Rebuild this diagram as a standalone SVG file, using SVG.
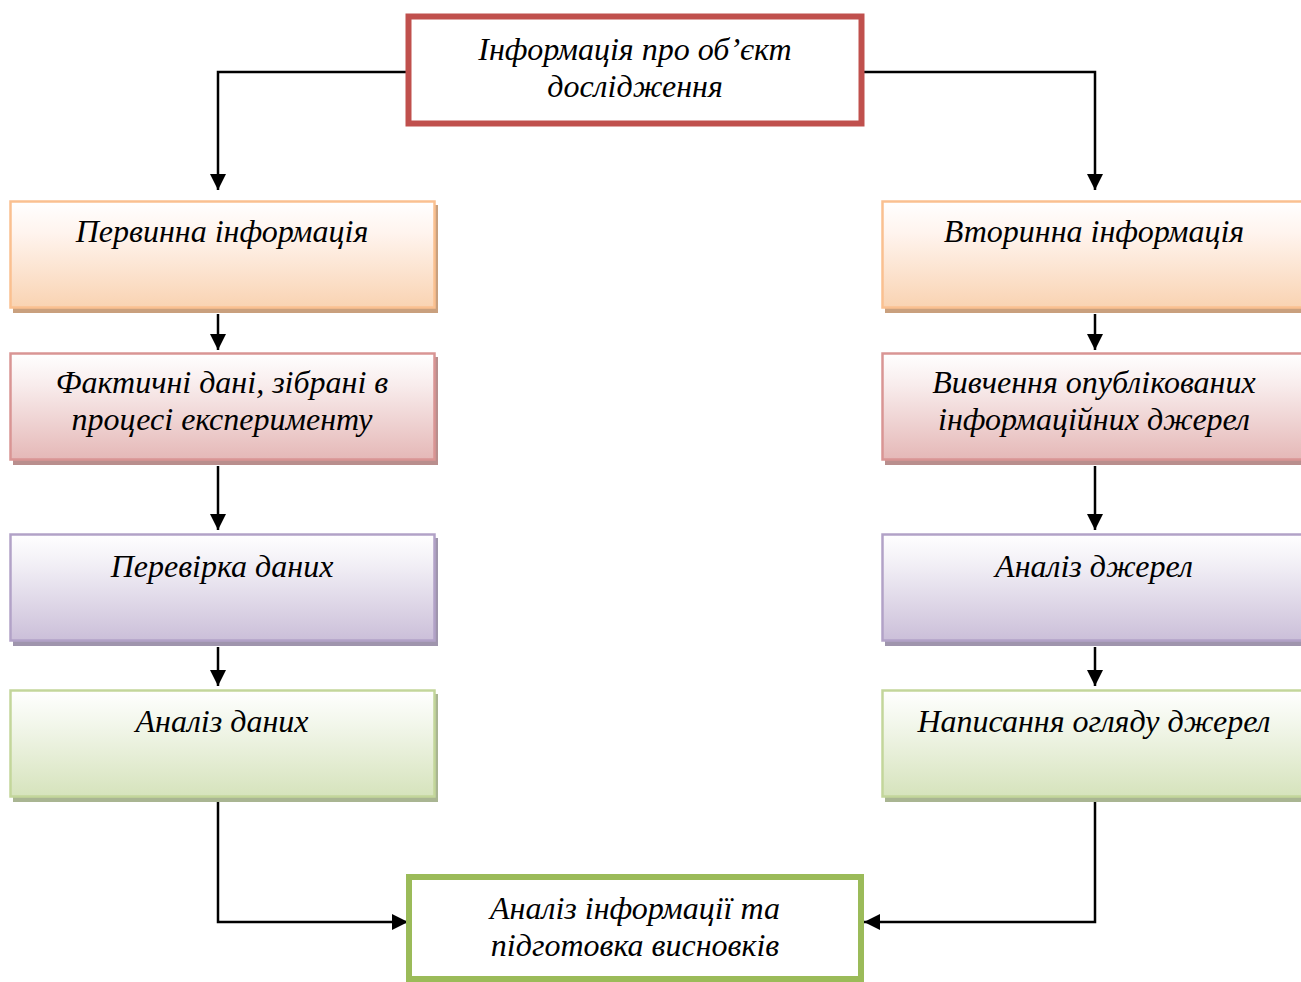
<svg xmlns="http://www.w3.org/2000/svg" width="1301" height="982" viewBox="0 0 1301 982">
  <defs>
    <linearGradient id="gOrange" x1="0" y1="0" x2="0" y2="1">
      <stop offset="0" stop-color="#ffffff"/>
      <stop offset="0.3" stop-color="#fff4ee"/>
      <stop offset="1" stop-color="#f9d3b2"/>
    </linearGradient>
    <linearGradient id="gRed" x1="0" y1="0" x2="0" y2="1">
      <stop offset="0" stop-color="#ffffff"/>
      <stop offset="0.3" stop-color="#f8ecec"/>
      <stop offset="1" stop-color="#e5b8b7"/>
    </linearGradient>
    <linearGradient id="gPurple" x1="0" y1="0" x2="0" y2="1">
      <stop offset="0" stop-color="#ffffff"/>
      <stop offset="0.3" stop-color="#f1eef5"/>
      <stop offset="1" stop-color="#cbbfd9"/>
    </linearGradient>
    <linearGradient id="gGreen" x1="0" y1="0" x2="0" y2="1">
      <stop offset="0" stop-color="#ffffff"/>
      <stop offset="0.3" stop-color="#f3f7ec"/>
      <stop offset="1" stop-color="#d6e3bc"/>
    </linearGradient>
    <marker id="arrow" viewBox="0 0 10 10" refX="10" refY="5" markerWidth="16" markerHeight="16" markerUnits="userSpaceOnUse" orient="auto">
      <path d="M0,0 L10,5 L0,10 Z" fill="#000"/>
    </marker>
  </defs>
  <style>
    text { font-family: "Liberation Serif", "Times New Roman", serif; font-style: italic; font-size: 32px; fill: #000; text-anchor: middle; }
    .conn { fill: none; stroke: #000; stroke-width: 2.5; }
    .shadow-o { fill: #c9a07e; }
    .shadow-r { fill: #b98e8d; }
    .shadow-p { fill: #9f95ad; }
    .shadow-g { fill: #a9b592; }
    .box-o { fill: url(#gOrange); stroke: #fac090; stroke-width: 2.5; }
    .box-r { fill: url(#gRed); stroke: #d99594; stroke-width: 2.5; }
    .box-p { fill: url(#gPurple); stroke: #b2a2c7; stroke-width: 2.5; }
    .box-g { fill: url(#gGreen); stroke: #c3d69b; stroke-width: 2.5; }
  </style>

  <rect width="1301" height="982" fill="#ffffff"/>

  <!-- connectors -->
  <g id="connectors">
    <polyline class="conn" points="408,72 218,72 218,190" marker-end="url(#arrow)"/>
    <polyline class="conn" points="862,72 1095,72 1095,190" marker-end="url(#arrow)"/>
    <line class="conn" x1="218" y1="314" x2="218" y2="350" marker-end="url(#arrow)"/>
    <line class="conn" x1="218" y1="466" x2="218" y2="530" marker-end="url(#arrow)"/>
    <line class="conn" x1="218" y1="647" x2="218" y2="686" marker-end="url(#arrow)"/>
    <line class="conn" x1="1095" y1="314" x2="1095" y2="350" marker-end="url(#arrow)"/>
    <line class="conn" x1="1095" y1="466" x2="1095" y2="530" marker-end="url(#arrow)"/>
    <line class="conn" x1="1095" y1="647" x2="1095" y2="686" marker-end="url(#arrow)"/>
    <polyline class="conn" points="218,801 218,922 408,922" marker-end="url(#arrow)"/>
    <polyline class="conn" points="1095,801 1095,922 864,922" marker-end="url(#arrow)"/>
  </g>

  <!-- top node -->
  <g id="node-info">
    <rect x="408.5" y="16.5" width="453" height="107" fill="#ffffff" stroke="#c0504d" stroke-width="6"/>
    <text x="635" y="60">Інформація про об’єкт</text>
    <text x="635" y="97">дослідження</text>
  </g>

  <!-- left column -->
  <g id="node-primary">
    <rect class="shadow-o" x="13" y="205" width="425" height="108"/>
    <rect class="box-o" x="10.5" y="201.5" width="424" height="106"/>
    <text x="222" y="242">Первинна інформація</text>
  </g>
  <g id="node-facts">
    <rect class="shadow-r" x="13" y="357" width="425" height="108"/>
    <rect class="box-r" x="10.5" y="353.5" width="424" height="106"/>
    <text x="222" y="393">Фактичні дані, зібрані в</text>
    <text x="222" y="430">процесі експерименту</text>
  </g>
  <g id="node-check">
    <rect class="shadow-p" x="13" y="538" width="425" height="108"/>
    <rect class="box-p" x="10.5" y="534.5" width="424" height="106"/>
    <text x="222" y="577">Перевірка даних</text>
  </g>
  <g id="node-data-analysis">
    <rect class="shadow-g" x="13" y="694" width="425" height="108"/>
    <rect class="box-g" x="10.5" y="690.5" width="424" height="106"/>
    <text x="222" y="732">Аналіз даних</text>
  </g>

  <!-- right column -->
  <g id="node-secondary">
    <rect class="shadow-o" x="885" y="205" width="425" height="108"/>
    <rect class="box-o" x="882.5" y="201.5" width="424" height="106"/>
    <text x="1094" y="242">Вторинна інформація</text>
  </g>
  <g id="node-study">
    <rect class="shadow-r" x="885" y="357" width="425" height="108"/>
    <rect class="box-r" x="882.5" y="353.5" width="424" height="106"/>
    <text x="1094" y="393">Вивчення опублікованих</text>
    <text x="1094" y="430">інформаційних джерел</text>
  </g>
  <g id="node-sources">
    <rect class="shadow-p" x="885" y="538" width="425" height="108"/>
    <rect class="box-p" x="882.5" y="534.5" width="424" height="106"/>
    <text x="1094" y="577">Аналіз джерел</text>
  </g>
  <g id="node-review">
    <rect class="shadow-g" x="885" y="694" width="425" height="108"/>
    <rect class="box-g" x="882.5" y="690.5" width="424" height="106"/>
    <text x="1094" y="732">Написання огляду джерел</text>
  </g>

  <!-- bottom node -->
  <g id="node-conclusions">
    <rect x="409" y="877" width="452" height="102" fill="#ffffff" stroke="#9bbb59" stroke-width="6"/>
    <text x="635" y="919">Аналіз інформації та</text>
    <text x="635" y="956">підготовка висновків</text>
  </g>
</svg>
